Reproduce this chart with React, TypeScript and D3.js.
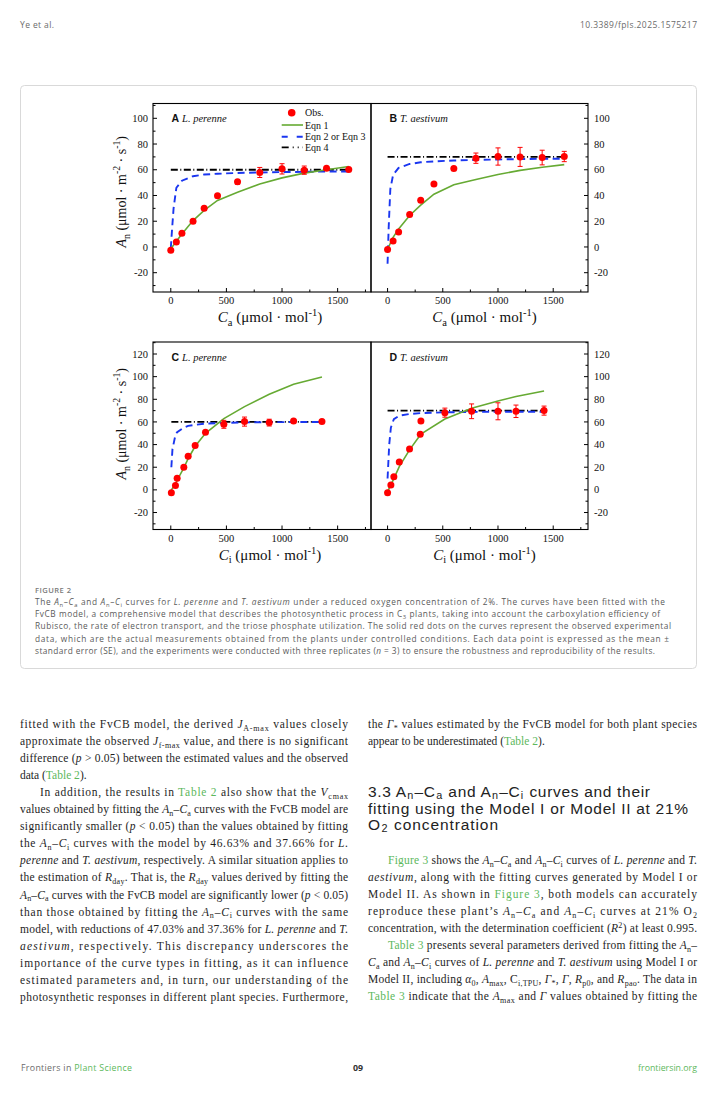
import React from 'react';
import * as d3 from 'd3';

// ---------------- DATA ----------------
// Panel A: L. perenne, An–Ca
const caA = [0, 50, 100, 200, 300, 420, 600, 800, 1000, 1200, 1400, 1600];
const obsA = [-2.6, 3.9, 10.6, 19.9, 30.0, 39.8, 50.6, 57.9, 60.7, 59.7, 61.2, 60.2];
const seA = [0.6, 0.6, 0.8, 0.8, 0.6, 0.6, 1.8, 3.9, 4.0, 3.2, 1.2, 0.8];
const eqn1A = [-1.5, 4.5, 10.0, 20.5, 28.5, 36.2, 42.6, 49.0, 53.7, 57.4, 60.0, 62.5];
const eqn2xA = [0, 10, 25, 50, 100, 200, 300, 420, 600, 800, 1000, 1200, 1400, 1600];
const eqn2A = [-1, 12, 30, 46, 51.5, 55, 56.3, 56.9, 57.5, 57.9, 58.2, 58.4, 58.6, 58.7];
const eqn4xA = [0, 1600];
const eqn4A = [60, 60];

// Panel B: T. aestivum, An–Ca
const caB = [0, 50, 100, 200, 300, 420, 600, 800, 1000, 1200, 1400, 1600];
const obsB = [-2.0, 4.7, 11.6, 25.3, 36.4, 49.0, 61.0, 69.0, 70.3, 70.0, 69.5, 70.3];
const seB = [0.6, 0.6, 0.8, 0.8, 0.6, 0.6, 0.8, 4.0, 6.7, 7.4, 5.7, 4.0];
const eqn1B = [-1.8, 7.5, 14.0, 24.5, 32.5, 41.0, 48.3, 52.5, 56.3, 59.5, 62.0, 64.0];
const eqn2xB = [0, 10, 25, 50, 100, 200, 300, 420, 600, 800, 1000, 1200, 1400, 1600];
const eqn2B = [-13, 15, 45, 56, 61.5, 64.5, 65.8, 66.5, 67.2, 67.7, 68.0, 68.3, 68.5, 68.6];
const eqn4xB = [0, 1600];
const eqn4B = [70, 70];

// Panel C: L. perenne, An–Ci
const ciC = [5, 42, 57, 117, 156, 219, 312, 477, 663, 885, 1104, 1359];
const obsC = [-2.6, 3.8, 10.3, 20.0, 29.7, 39.1, 50.9, 57.9, 60.3, 59.4, 60.9, 60.3];
const seC = [0.6, 0.6, 0.8, 0.8, 0.8, 0.8, 0.8, 3.5, 4.0, 3.0, 1.0, 0.6];
const eqn1C = [0, 5, 8.5, 19.5, 27.5, 38.5, 50.0, 63.0, 73.5, 84.4, 93.2, 99.7];
const eqn2xC = [5, 15, 42, 57, 117, 156, 219, 312, 477, 663, 885, 1104, 1359];
const eqn2C = [20, 36, 48.5, 51, 55, 56.5, 57.5, 58.5, 59.2, 59.6, 59.8, 59.9, 60];
const eqn4xC = [5, 1359];
const eqn4C = [60, 60];

// Panel D: T. aestivum, An–Ci
const ciD = [0, 30, 57, 106, 199, 296, 302, 519, 761, 1000, 1163, 1417];
const obsD = [-2.6, 4.4, 11.5, 24.7, 36.2, 49.1, 60.9, 68.2, 69.4, 69.4, 69.4, 70.0];
const seD = [0.6, 0.6, 0.8, 0.8, 0.8, 0.8, 0.8, 4.0, 6.5, 7.5, 5.5, 4.0];
const eqn1D = [-1.5, 4.5, 10.0, 20.6, 35.3, 48.5, 49.3, 62.6, 72.0, 78.5, 82.4, 87.4];
const eqn2xD = [0, 15, 30, 57, 106, 199, 302, 519, 761, 1000, 1163, 1417];
const eqn2D = [10, 40, 55, 62.5, 65.5, 67, 67.8, 68.5, 68.8, 69, 69, 69];
const eqn4xD = [0, 1417];
const eqn4D = [70, 70];

const xMajorTicks = [0, 500, 1000, 1500];
const xMinorTicks = [250, 750, 1250, 1750];
const yTicksTop = [-20, 0, 20, 40, 60, 80, 100];
const yTicksBottom = [-20, 0, 20, 40, 60, 80, 100, 120];
const legendLabels = ['Obs.', 'Eqn 1', 'Eqn 2 or Eqn 3', 'Eqn 4'];

// ---------------- STYLE ----------------
const SERIF = "'Liberation Serif','Times New Roman',serif";
const SANS = "'Liberation Sans',Arial,sans-serif";
const UI = "'Open Sans','Noto Sans',sans-serif";
const HEAD = "'Liberation Sans',Arial,sans-serif";
const LINK = '#5cb85c';
const RED = '#ff0000';
const GREEN = '#66aa33';
const BLUE = '#1a36f0';

type Seg = { t: string; it: boolean; link: boolean; pos: number };

function parse(s: string): Seg[] {
  const segs: Seg[] = [];
  let italic = false, link = false, buf = '';
  const push = () => { if (buf) segs.push({ t: buf, it: italic, link, pos: 0 }); buf = ''; };
  for (let i = 0; i < s.length; i++) {
    const c = s[i];
    if (c === '*') { push(); italic = !italic; continue; }
    if (c === '[') { push(); link = true; continue; }
    if (c === ']') { push(); link = false; continue; }
    if ((c === '_' || c === '^') && s[i + 1] === '{') {
      push();
      const j = s.indexOf('}', i + 2);
      segs.push({ t: s.slice(i + 2, j), it: false, link, pos: c === '_' ? 1 : -1 });
      i = j;
      continue;
    }
    buf += c;
  }
  push();
  return segs;
}

function rich(text: string, fs: number, gap = 0, subOff = 0.25) {
  const segs = parse(text);
  let cur = 0;
  let prevSub = false;
  return segs.map((sg, i) => {
    const target = sg.pos === 1 ? fs * subOff : sg.pos === -1 ? -fs * 0.4 : 0;
    const dy = target - cur;
    cur = target;
    const dx = gap && (sg.pos !== 0 || prevSub) ? gap : undefined;
    prevSub = sg.pos !== 0;
    return (
      <tspan key={i} dy={dy !== 0 ? dy : undefined} dx={dx}
        fontStyle={sg.it ? 'italic' : undefined}
        fontSize={sg.pos ? fs * 0.7 : undefined}
        fill={sg.link ? LINK : undefined}>{sg.t}</tspan>
    );
  });
}

type LineProps = { x: number; y: number; w?: number; text: string; fs: number; family: string; fill: string; fit?: boolean; anchor?: string; weight?: any; gap?: number; subOff?: number };
function TLine({ x, y, w, text, fs, family, fill, fit, anchor, weight, gap, subOff }: LineProps) {
  return (
    <text x={x} y={y} fontSize={fs} fontFamily={family} fill={fill} fontWeight={weight}
      textAnchor={anchor as any}
      textLength={fit && w ? w : undefined} lengthAdjust={fit ? 'spacing' : undefined}
      style={{ whiteSpace: 'pre' }}>
      {rich(text, fs, gap || 0, subOff ?? 0.25)}
    </text>
  );
}

// ---------------- PANELS ----------------
type PanelCfg = {
  letter: string; species: string; left: number; right: number; top: number; bottom: number;
  xDomain: [number, number]; yDomain: [number, number]; yTicks: number[];
  side: 'left' | 'right'; xs: number[]; obs: number[]; se: number[]; eq1: number[];
  eq2x: number[]; eq2: number[]; eq4x: number[]; eq4: number[]; xTitle: string; yTitle?: boolean; legend?: boolean;
};

const panels: PanelCfg[] = [
  { letter: 'A', species: 'L. perenne', left: 153, right: 371, top: 103.5, bottom: 292, xDomain: [-160, 1800], yDomain: [-35, 111.5], yTicks: yTicksTop, side: 'left', xs: caA, obs: obsA, se: seA, eq1: eqn1A, eq2x: eqn2xA, eq2: eqn2A, eq4x: eqn4xA, eq4: eqn4A, xTitle: '*C*_{a} (μmol · mol^{-1})', yTitle: true, legend: true },
  { letter: 'B', species: 'T. aestivum', left: 371, right: 588, top: 103.5, bottom: 292, xDomain: [-150, 1815], yDomain: [-35, 111.5], yTicks: yTicksTop, side: 'right', xs: caB, obs: obsB, se: seB, eq1: eqn1B, eq2x: eqn2xB, eq2: eqn2B, eq4x: eqn4xB, eq4: eqn4B, xTitle: '*C*_{a} (μmol · mol^{-1})' },
  { letter: 'C', species: 'L. perenne', left: 153, right: 371, top: 342, bottom: 529.5, xDomain: [-160, 1800], yDomain: [-35, 130.6], yTicks: yTicksBottom, side: 'left', xs: ciC, obs: obsC, se: seC, eq1: eqn1C, eq2x: eqn2xC, eq2: eqn2C, eq4x: eqn4xC, eq4: eqn4C, xTitle: '*C*_{i} (μmol · mol^{-1})', yTitle: true },
  { letter: 'D', species: 'T. aestivum', left: 371, right: 588, top: 342, bottom: 529.5, xDomain: [-150, 1815], yDomain: [-35, 130.6], yTicks: yTicksBottom, side: 'right', xs: ciD, obs: obsD, se: seD, eq1: eqn1D, eq2x: eqn2xD, eq2: eqn2D, eq4x: eqn4xD, eq4: eqn4D, xTitle: '*C*_{i} (μmol · mol^{-1})' },
];

function Panel({ p }: { p: PanelCfg }) {
  const x = d3.scaleLinear().domain(p.xDomain).range([p.left, p.right]);
  const y = d3.scaleLinear().domain(p.yDomain).range([p.bottom, p.top]);
  const line = d3.line<[number, number]>().x(d => x(d[0])).y(d => y(d[1]));
  const zip = (a: number[], b: number[]) => a.map((v, i) => [v, b[i]] as [number, number]);
  const yMinor = d3.range(-30, 131, 10).filter(v => v % 20 !== 0 && v >= p.yDomain[0] && v <= p.yDomain[1]);
  const axX = p.side === 'left' ? p.left : p.right;
  const dir = p.side === 'left' ? 1 : -1;
  const cx = (p.left + p.right) / 2 + (p.side === 'left' ? 8 : 5);
  return (
    <g>
      {/* frame */}
      <rect x={p.left} y={p.top} width={p.right - p.left} height={p.bottom - p.top} fill="none" stroke="#000" strokeWidth={1.1} />
      {/* x ticks */}
      {xMajorTicks.map(t => (
        <g key={'xm' + t}>
          <line x1={x(t)} x2={x(t)} y1={p.bottom} y2={p.bottom - 4} stroke="#000" strokeWidth={1} />
          <text x={x(t)} y={p.bottom + 12} fontSize={10.5} fontFamily={SERIF} textAnchor="middle" fill="#111">{t}</text>
        </g>
      ))}
      {xMinorTicks.filter(t => t <= p.xDomain[1]).map(t => (
        <line key={'xn' + t} x1={x(t)} x2={x(t)} y1={p.bottom} y2={p.bottom - 2.5} stroke="#000" strokeWidth={1} />
      ))}
      {/* y ticks */}
      {p.yTicks.map(t => (
        <g key={'ym' + t}>
          <line x1={axX} x2={axX + 4 * dir} y1={y(t)} y2={y(t)} stroke="#000" strokeWidth={1} />
          <text x={p.side === 'left' ? axX - 5 : axX + 6} y={y(t) + 3.6} fontSize={10.5} fontFamily={SERIF}
            textAnchor={p.side === 'left' ? 'end' : 'start'} fill="#111">{t}</text>
        </g>
      ))}
      {yMinor.map(t => (
        <line key={'yn' + t} x1={axX} x2={axX + 2.5 * dir} y1={y(t)} y2={y(t)} stroke="#000" strokeWidth={1} />
      ))}
      {/* curves */}
      <path d={line(zip(p.eq4x, p.eq4)) || ''} fill="none" stroke="#000" strokeWidth={1.8} strokeDasharray="7,2.5,1,2.5" />
      <path d={line(zip(p.eq2x, p.eq2)) || ''} fill="none" stroke={BLUE} strokeWidth={1.9} strokeDasharray="7,4.5" />
      <path d={line(zip(p.xs, p.eq1)) || ''} fill="none" stroke={GREEN} strokeWidth={1.6} />
      {/* observations */}
      {p.xs.map((v, i) => (
        <g key={'o' + i}>
          <line x1={x(v)} x2={x(v)} y1={y(p.obs[i] - p.se[i])} y2={y(p.obs[i] + p.se[i])} stroke={RED} strokeWidth={1} />
          <line x1={x(v) - 2.5} x2={x(v) + 2.5} y1={y(p.obs[i] - p.se[i])} y2={y(p.obs[i] - p.se[i])} stroke={RED} strokeWidth={1} />
          <line x1={x(v) - 2.5} x2={x(v) + 2.5} y1={y(p.obs[i] + p.se[i])} y2={y(p.obs[i] + p.se[i])} stroke={RED} strokeWidth={1} />
          <circle cx={x(v)} cy={y(p.obs[i])} r={3.5} fill={RED} />
        </g>
      ))}
      {/* panel label */}
      <text x={p.left + 18.5} y={p.top + 18.5} fontSize={10.5} fill="#111">
        <tspan fontFamily={SANS} fontWeight="bold">{p.letter}</tspan>
        <tspan fontFamily={SERIF} fontStyle="italic" dx={3}>{p.species}</tspan>
      </text>
      {/* axis titles */}
      <text x={cx} y={p.bottom + 30} fontSize={15} fontFamily={SERIF} textAnchor="middle" fill="#111" style={{ whiteSpace: 'pre' }}>
        {rich(p.xTitle, 15)}
      </text>
      {p.yTitle && (
        <text transform={`translate(126,${(p.top + p.bottom) / 2 - (p.top < 200 ? 6 : 12)}) rotate(-90)`} fontSize={14} fontFamily={SERIF} textAnchor="middle" fill="#111" style={{ whiteSpace: 'pre' }}>
          {rich('*A*_{n} (μmol · m^{-2} · s^{-1})', 14)}
        </text>
      )}
      {p.legend && (
        <g fontFamily={SERIF} fontSize={10} fill="#111">
          <circle cx={291.7} cy={112.7} r={3.8} fill={RED} />
          <text x={305} y={116.2}>{legendLabels[0]}</text>
          <line x1={281.7} x2={303} y1={125} y2={125} stroke={GREEN} strokeWidth={1.6} />
          <text x={305} y={128.5}>{legendLabels[1]}</text>
          <line x1={281.7} x2={303} y1={136.7} y2={136.7} stroke={BLUE} strokeWidth={1.9} strokeDasharray="6,9" />
          <text x={305} y={140.2}>{legendLabels[2]}</text>
          <line x1={281.7} x2={303} y1={147.3} y2={147.3} stroke="#000" strokeWidth={1.8} strokeDasharray="7,4,1,4,1,4" />
          <text x={305} y={150.8}>{legendLabels[3]}</text>
        </g>
      )}
    </g>
  );
}

// ---------------- TEXT ----------------
const captionLines = [
  { t: 'The *A*_{n}–*C*_{a} and *A*_{n}–*C*_{i} curves for *L. perenne* and *T. aestivum* under a reduced oxygen concentration of 2%. The curves have been fitted with the', end: 665 },
  { t: 'FvCB model, a comprehensive model that describes the photosynthetic process in C_{3} plants, taking into account the carboxylation efficiency of', end: 660 },
  { t: 'Rubisco, the rate of electron transport, and the triose phosphate utilization. The solid red dots on the curves represent the observed experimental', end: 671 },
  { t: 'data, which are the actual measurements obtained from the plants under controlled conditions. Each data point is expressed as the mean ±', end: 669 },
  { t: 'standard error (SE), and the experiments were conducted with three replicates (*n* = 3) to ensure the robustness and reproducibility of the results.', end: 655 },
];

const leftCol = [
  { t: 'fitted with the FvCB model, the derived *J*_{A-max} values closely', j: true },
  { t: 'approximate the observed *J*_{f-max} value, and there is no significant', j: true },
  { t: 'difference (*p* > 0.05) between the estimated values and the observed', j: true },
  { t: 'data ([Table 2]).', j: false },
  { t: 'In addition, the results in [Table 2] also show that the *V*_{cmax}', j: true, ind: true },
  { t: 'values obtained by fitting the *A*_{n}–*C*_{a} curves with the FvCB model are', j: true },
  { t: 'significantly smaller (*p* < 0.05) than the values obtained by fitting', j: true },
  { t: 'the *A*_{n}–*C*_{i} curves with the model by 46.63% and 37.66% for *L.*', j: true },
  { t: '*perenne* and *T. aestivum*, respectively. A similar situation applies to', j: true },
  { t: 'the estimation of *R*_{day}. That is, the *R*_{day} values derived by fitting the', j: true },
  { t: '*A*_{n}–*C*_{a} curves with the FvCB model are significantly lower (*p* < 0.05)', j: true },
  { t: 'than those obtained by fitting the *A*_{n}–*C*_{i} curves with the same', j: true },
  { t: 'model, with reductions of 47.03% and 37.36% for *L. perenne* and *T.*', j: true },
  { t: '*aestivum*, respectively. This discrepancy underscores the', j: true },
  { t: 'importance of the curve types in fitting, as it can influence', j: true },
  { t: 'estimated parameters and, in turn, our understanding of the', j: true },
  { t: 'photosynthetic responses in different plant species. Furthermore,', j: true },
];

const rightTop = [
  { t: 'the *Γ*_{*} values estimated by the FvCB model for both plant species', j: true },
  { t: 'appear to be underestimated ([Table 2]).', j: false },
];

const headingLines = [
  { t: '3.3 A_{n}–C_{a} and A_{n}–C_{i} curves and their', w: 282 },
  { t: 'fitting using the Model I or Model II at 21%', w: 320 },
  { t: 'O_{2} concentration', w: 130 },
];

const rightBottom = [
  { t: '[Figure 3] shows the *A*_{n}–*C*_{a} and *A*_{n}–*C*_{i} curves of *L. perenne* and *T.*', j: true, ind: true },
  { t: '*aestivum*, along with the fitting curves generated by Model I or', j: true },
  { t: 'Model II. As shown in [Figure 3], both models can accurately', j: true },
  { t: 'reproduce these plant’s *A*_{n}–*C*_{a} and *A*_{n}–*C*_{i} curves at 21% O_{2}', j: true },
  { t: 'concentration, with the determination coefficient (*R*^{2}) at least 0.995.', j: true },
  { t: '[Table 3] presents several parameters derived from fitting the *A*_{n}–', j: true, ind: true },
  { t: '*C*_{a} and *A*_{n}–*C*_{i} curves of *L. perenne* and *T. aestivum* using Model I or', j: true },
  { t: 'Model II, including *α*_{0}, *A*_{max}, C_{i,TPU}, *Γ*_{*}, *Γ*, *R*_{p0}, and *R*_{pao}. The data in', j: true },
  { t: '[Table 3] indicate that the *A*_{max} and *Γ* values obtained by fitting the', j: true },
];

const BODY_FS = 11.5;
const BODY_FILL = '#1e1e1e';

export default function App() {
  return (
    <svg width={716} height={1096} viewBox="0 0 716 1096"
      style={{ position: 'absolute', left: 0, top: 0, display: 'block', background: '#fff' }}>
      <rect x={0} y={0} width={716} height={1096} fill="#fff" />
      {/* header */}
      <TLine x={20} y={28} w={34} text="Ye et al." fs={8.5} family={UI} fill="#6b6b6b" fit />
      <TLine x={580} y={28} w={117} text="10.3389/fpls.2025.1575217" fs={8.5} family={UI} fill="#6b6b6b" fit />
      {/* figure box */}
      <rect x={20.5} y={85.5} width={676} height={583} rx={4} fill="#fff" stroke="#d9d9d9" strokeWidth={1} />
      {panels.map(p => <Panel key={p.letter} p={p} />)}
      {/* caption */}
      <text x={35} y={593} fontSize={7.6} fontFamily={UI} fill="#7a7a7a" fontWeight={600} textLength={36} lengthAdjust="spacing">FIGURE 2</text>
      {captionLines.map((c, i) => (
        <TLine key={'c' + i} x={35} y={605 + i * 12.2} w={c.end - 35} text={c.t} fs={8.3} family={UI} fill="#5a5a5a" fit />
      ))}
      {/* body: left column */}
      {leftCol.map((l, i) => (
        <TLine key={'l' + i} x={l.ind ? 40 : 20} y={728 + i * 17.05} w={l.ind ? 308 : 328} text={l.t} fs={BODY_FS} family={SERIF} fill={BODY_FILL} fit={l.j} />
      ))}
      {/* body: right column */}
      {rightTop.map((l, i) => (
        <TLine key={'rt' + i} x={368} y={728 + i * 17.05} w={329} text={l.t} fs={BODY_FS} family={SERIF} fill={BODY_FILL} fit={l.j} />
      ))}
      {headingLines.map((h, i) => (
        <TLine key={'h' + i} x={368} y={797 + i * 16.7} w={h.w} text={h.t} fs={15.5} family={HEAD} fill="#222" gap={0.5} subOff={0.1} fit />
      ))}
      {rightBottom.map((l, i) => (
        <TLine key={'rb' + i} x={l.ind ? 388 : 368} y={864 + i * 17.05} w={l.ind ? 309 : 329} text={l.t} fs={BODY_FS} family={SERIF} fill={BODY_FILL} fit={l.j} />
      ))}
      {/* footer */}
      <text x={21} y={1071} fontSize={8.8} fontFamily={UI} fill="#6b6b6b" textLength={111} lengthAdjust="spacing" style={{ whiteSpace: 'pre' }}>
        <tspan>Frontiers in </tspan><tspan fill={LINK}>Plant Science</tspan>
      </text>
      <text x={358} y={1071} fontSize={8.8} fontFamily={UI} fill="#333" fontWeight={700} textAnchor="middle">09</text>
      <text x={697} y={1071} fontSize={8.8} fontFamily={UI} fill={LINK} textAnchor="end">frontiersin.org</text>
    </svg>
  );
}
